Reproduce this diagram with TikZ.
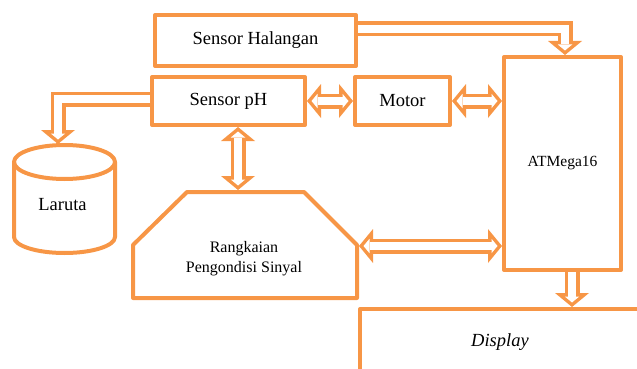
\documentclass[tikz,border=0pt]{standalone}
\usepackage{fontspec}
\setmainfont{Liberation Serif}
\usetikzlibrary{positioning,arrows.meta}
\definecolor{boxorange}{HTML}{F79646}

\begin{document}
\begin{tikzpicture}[x=1pt,y=-1pt,line join=round,
	box/.style={draw=boxorange,line width=4pt,inner sep=0pt,font=\fontsize{18.5}{20}\selectfont},
	outline/.style={draw=boxorange,line width=4pt},
	flow/.style={draw=boxorange,line width=15pt,line join=miter,
		arrows={-Triangle[length=14pt,width=34pt,line width=0pt]},
		postaction={draw=white,line width=8pt,shorten >=4.5pt,
			arrows={-Triangle[length=6pt,width=14.5pt,line width=0pt]}}},
	flowboth/.style={draw=boxorange,line width=15pt,line join=miter,
		arrows={Triangle[length=14pt,width=34pt,line width=0pt]-Triangle[length=14pt,width=34pt,line width=0pt]},
		postaction={draw=white,line width=8pt,shorten >=4.5pt,shorten <=4.5pt,
			arrows={Triangle[length=6pt,width=14.5pt,line width=0pt]-Triangle[length=6pt,width=14.5pt,line width=0pt]}}}]

	\useasboundingbox (0,0) rectangle (637,369);

	\node[box,minimum width=201pt,minimum height=51pt] (sh) at (255.5,40.5) {Sensor Halangan};
	\node[box,minimum width=153pt,minimum height=48pt] (ph) at (228.5,101) {Sensor pH};
	\node[box,minimum width=95pt,minimum height=48pt,right=46pt of ph] (mot) {Motor};
	\node[box,minimum width=117pt,minimum height=213pt,font=\fontsize{15.5}{18}\selectfont] (atm) at (562.5,163.5) {ATMega16};
	\node[box,minimum width=280pt,minimum height=66pt] (disp) at (500,342) {\textit{Display}};

	% Laruta
	\draw[outline] (64.5,162) ellipse[x radius=50.5pt,y radius=17pt];
	\draw[outline] (14,162) -- (14,237) arc[start angle=180,end angle=360,x radius=50.5pt,y radius=16pt] -- (115,162);
	\node[font=\fontsize{18.5}{20}\selectfont] (lar) at (62.5,205) {Laruta};
	\coordinate (lar-top) at (58,144);

	% Rangkaian
	\draw[outline] (133,245) -- (187,192) -- (304,192) -- (357,245) -- (357,298) -- (133,298) -- cycle;
	\node[font=\fontsize{16}{20}\selectfont,align=center] (rk) at (244,259) {Rangkaian\\Pengondisi Sinyal};
	\coordinate (rk-top) at (238,190);
	\coordinate (rk-east) at (359,246);

	\draw[flow] ([yshift=11.5pt]sh.east) -| ([xshift=2.5pt]atm.north);
	\draw[flow] ([yshift=2pt]ph.west) -| (lar-top);
	\draw[flowboth] (ph.east) -- (mot.west);
	\draw[flowboth] (mot.east) -- (mot.east -| atm.west);
	\draw[flowboth] ([xshift=9.5pt]ph.south) -- ([xshift=9.5pt]ph.south |- rk-top);
	\draw[flowboth] (rk-east) -- (rk-east -| atm.west);
	\draw[flow] ([xshift=9.5pt]atm.south) -- ([xshift=9.5pt]atm.south |- disp.north);
\end{tikzpicture}
\end{document}
